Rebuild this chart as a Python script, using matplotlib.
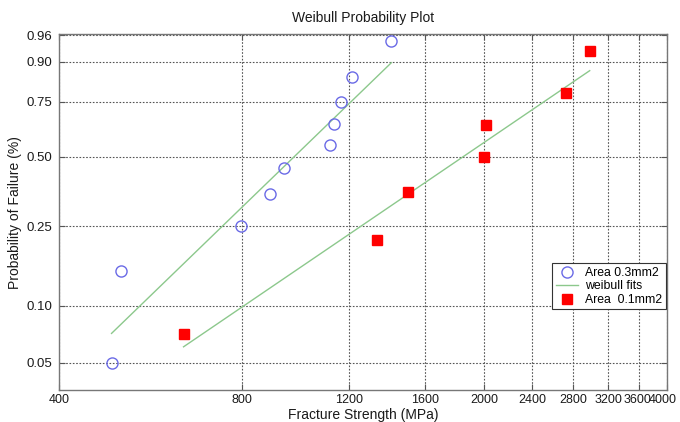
import numpy as np
import matplotlib
matplotlib.use("Agg")
import matplotlib.pyplot as plt
import matplotlib.transforms as mtransforms
from matplotlib.ticker import FixedLocator, FixedFormatter, NullLocator

plt.rcParams['font.family'] = ['Liberation Sans', 'DejaVu Sans']

# Area 0.3 mm2 data
x_03 = [488, 505, 797, 890, 939, 1118, 1135, 1165, 1212, 1408]
p_03 = [0.05, 0.15, 0.25, 0.35, 0.45, 0.55, 0.65, 0.75, 0.85, 0.95]
# Area 0.1 mm2 data
x_01 = [641, 1333, 1498, 2001, 2014, 2725, 2984]
p_01 = [0.0714, 0.2143, 0.3571, 0.5, 0.6429, 0.7857, 0.9286]
# Weibull fit lines (endpoints)
fit03_x = [488, 1408]
fit03_p = [0.0716, 0.897]
fit01_x = [641, 2984]
fit01_p = [0.0608, 0.872]

xticks = [400, 800, 1200, 1600, 2000, 2400, 2800, 3200, 3600, 4000]
yticks = [0.05, 0.10, 0.25, 0.50, 0.75, 0.90, 0.96]
ytick_labels = ['0.05', '0.10', '0.25', '0.50', '0.75', '0.90', '0.96']


def fwd(p):
    p = np.clip(np.asarray(p, dtype=float), 1e-9, 1 - 1e-12)
    return np.log(-np.log(1 - p))


def inv(u):
    return 1 - np.exp(-np.exp(np.asarray(u, dtype=float)))


fig = plt.figure(figsize=(6.8, 4.22), dpi=100)
ax = fig.add_axes([0.0868, 0.0758, 0.8942, 0.8429])
ax.set_xscale('log')
ax.set_yscale('function', functions=(fwd, inv))

ax.plot(x_03, p_03, linestyle='none', marker='o', markersize=8,
        markerfacecolor='none', markeredgecolor='#6a6ae6', markeredgewidth=1.0,
        label='Area 0.3mm2', zorder=3)
ax.plot(fit03_x, fit03_p, color='#8cc88c', lw=1.0, label='weibull fits', zorder=2)
ax.plot(x_01, p_01, linestyle='none', marker='s', markersize=7,
        markerfacecolor='#ff0000', markeredgecolor='#ff0000',
        label='Area  0.1mm2', zorder=3)
ax.plot(fit01_x, fit01_p, color='#8cc88c', lw=1.0, zorder=2)

ax.set_xlim(400, 4000)
ax.set_ylim(0.03568, 0.9614)

ax.xaxis.set_major_locator(FixedLocator(xticks))
ax.xaxis.set_major_formatter(FixedFormatter([str(t) for t in xticks]))
ax.xaxis.set_minor_locator(NullLocator())
ax.yaxis.set_major_locator(FixedLocator(yticks))
ax.yaxis.set_major_formatter(FixedFormatter(ytick_labels))
ax.yaxis.set_minor_locator(NullLocator())

ax.tick_params(direction='in', length=4, width=0.8, color='#555555',
               labelcolor='#1a1a1a', top=True, right=True, pad=3)
ax.tick_params(axis='x', labelsize=9)
ax.tick_params(axis='y', labelsize=9.5, pad=5)
ax.grid(True, linestyle=(0, (1.5, 1.5)), color='#555555', lw=0.8)
for s in ax.spines.values():
    s.set_color('#777777')
    s.set_linewidth(1.0)

ax.set_title('Weibull Probability Plot', fontsize=10, color='#1a1a1a', pad=9)
ax.set_xlabel('Fracture Strength (MPa)', fontsize=10, color='#1a1a1a', labelpad=1)
ax.set_ylabel('Probability of Failure (%)', fontsize=10, color='#1a1a1a', labelpad=3)

# nudge the two crowded right-most x tick labels so they stay inside the figure
fig.canvas.draw()
labels = ax.get_xticklabels()
for lab in labels:
    if lab.get_text() == '4000':
        lab.set_transform(lab.get_transform() +
                          mtransforms.ScaledTranslation(-3 / 72, 0, fig.dpi_scale_trans))
    elif lab.get_text() == '3600':
        lab.set_transform(lab.get_transform() +
                          mtransforms.ScaledTranslation(-1.5 / 72, 0, fig.dpi_scale_trans))

h, l = ax.get_legend_handles_labels()
leg = ax.legend(h, l, loc='upper right', bbox_to_anchor=(1.0, 0.36),
                borderaxespad=0.1, fontsize=8.8, frameon=True, fancybox=False,
                edgecolor='#333333', framealpha=1, handlelength=1.8,
                labelspacing=0.12, borderpad=0.3, handletextpad=0.6)
leg.get_frame().set_linewidth(0.8)

fig.savefig('out.png', dpi=100)
